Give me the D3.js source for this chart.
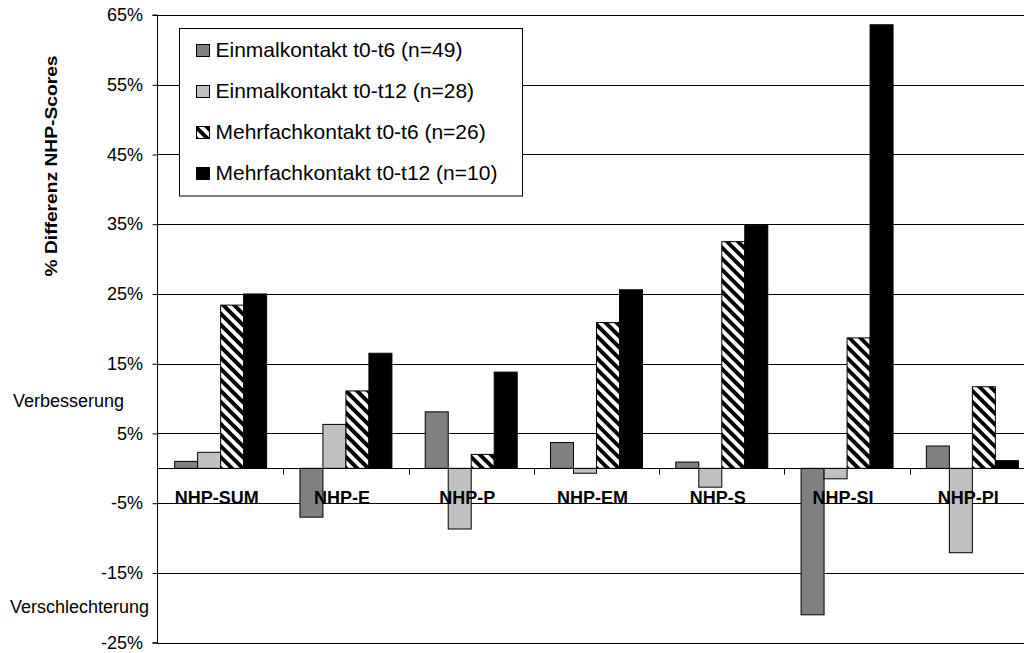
<!DOCTYPE html>
<html>
<head>
<meta charset="utf-8">
<script src="https://cdn.jsdelivr.net/npm/d3@7/dist/d3.min.js"></script>
<style>
  html, body { margin: 0; padding: 0; background: #fff; }
  svg { display: block; font-family: "Liberation Sans", Arial, sans-serif; }
</style>
</head>
<body>
<svg id="chart" width="1024" height="653"></svg>
<script>
// NHP score change (%) per dimension and contact group
const categories = ["NHP-SUM", "NHP-E", "NHP-P", "NHP-EM", "NHP-S", "NHP-SI", "NHP-PI"];
const seriesNames = [
  "Einmalkontakt t0-t6 (n=49)",
  "Einmalkontakt t0-t12 (n=28)",
  "Mehrfachkontakt t0-t6 (n=26)",
  "Mehrfachkontakt t0-t12 (n=10)"
];
const einmalT6 = [1.0, -7.0, 8.1, 3.7, 0.9, -21.0, 3.2];
const einmalT12 = [2.3, 6.3, -8.7, -0.7, -2.7, -1.5, -12.1];
const mehrfachT6 = [23.4, 11.1, 2.0, 20.9, 32.5, 18.7, 11.7];
const mehrfachT12 = [25.0, 16.5, 13.8, 25.6, 34.8, 63.6, 1.1];
const yTicks = [-25, -15, -5, 5, 15, 25, 35, 45, 55, 65];

const seriesValues = [einmalT6, einmalT12, mehrfachT6, mehrfachT12];
const fills = ["#808080", "#c0c0c0", "url(#hatch)", "#000000"];

const svg = d3.select("#chart");

// diagonal hatch for the third series
const defs = svg.append("defs");
const pat = defs.append("pattern")
  .attr("id", "hatch")
  .attr("patternUnits", "userSpaceOnUse")
  .attr("width", 7.8).attr("height", 7.8)
  .attr("patternTransform", "rotate(-45)");
pat.append("rect").attr("width", 7.8).attr("height", 7.8).attr("fill", "#fff");
pat.append("rect").attr("width", 3.9).attr("height", 7.8).attr("fill", "#000");

const plotLeft = 157, plotRight = 1035, plotTop = 15, plotBottom = 642.7;

const y = d3.scaleLinear().domain([-25, 65]).range([plotBottom, plotTop]);
const x0 = d3.scaleBand().domain(categories).range([plotLeft + 1, plotRight]).paddingInner(0).paddingOuter(0);
const x1 = d3.scaleBand().domain(d3.range(seriesNames.length)).range([0, x0.bandwidth()]).paddingInner(0).paddingOuter(0.724);

// horizontal gridlines
svg.append("g")
  .selectAll("line")
  .data(yTicks)
  .join("line")
  .attr("x1", plotLeft).attr("x2", 1024)
  .attr("y1", d => Math.round(y(d)) + 0.5).attr("y2", d => Math.round(y(d)) + 0.5)
  .attr("stroke", "#000").attr("stroke-width", 1);

// y axis with percent labels
const yAxis = d3.axisLeft(y).tickValues(yTicks).tickSize(5).tickFormat(d => d + "%");
const gy = svg.append("g").attr("transform", `translate(${plotLeft + 0.5},0)`).call(yAxis);
gy.select(".domain").attr("stroke", "#000").attr("d", `M-5,${y(65)}H0V${y(-25)}H-5`);
gy.selectAll(".tick line").attr("stroke", "#000");
gy.selectAll(".tick text")
  .attr("x", -14.5)
  .attr("font-size", "18px")
  .attr("fill", "#000")
  .attr("font-family", "'Liberation Sans', Arial, sans-serif");

// bars
const groups = svg.append("g")
  .selectAll("g")
  .data(categories)
  .join("g")
  .attr("transform", d => `translate(${x0(d)},0)`);

groups.selectAll("rect")
  .data((c, ci) => seriesValues.map((vals, si) => ({ si, v: vals[ci] })))
  .join("rect")
  .attr("x", d => x1(d.si))
  .attr("width", x1.bandwidth())
  .attr("y", d => y(Math.max(0, d.v)))
  .attr("height", d => Math.abs(y(d.v) - y(0)))
  .attr("fill", d => fills[d.si])
  .attr("stroke", "#000")
  .attr("stroke-width", 1);

// category axis at zero
const xAxis = d3.axisBottom(x0).tickSize(0).tickFormat("");
const gx = svg.append("g").attr("transform", `translate(0,${Math.round(y(0)) + 0.5})`).call(xAxis);
gx.select(".domain").attr("stroke", "#000").attr("d", `M${plotLeft},0H1024`);
gx.selectAll(".tick").remove();
gx.selectAll(".sep")
  .data(categories.slice(1))
  .join("line")
  .attr("class", "sep")
  .attr("x1", d => Math.round(x0(d)) + 0.5).attr("x2", d => Math.round(x0(d)) + 0.5)
  .attr("y1", 0).attr("y2", 6)
  .attr("stroke", "#000");

// category labels below the zero line
svg.append("g")
  .selectAll("text")
  .data(categories)
  .join("text")
  .attr("x", d => x0(d) + x0.bandwidth() / 2 - 4)
  .attr("y", 503.5)
  .attr("text-anchor", "middle")
  .attr("font-size", "18px")
  .attr("font-weight", "bold")
  .attr("fill", "#000")
  .text(d => d);

// side annotations
svg.append("text").attr("x", 13).attr("y", 406.5).attr("font-size", "18px").text("Verbesserung");
svg.append("text").attr("x", 10).attr("y", 612.5).attr("font-size", "18px").text("Verschlechterung");

// y axis title
svg.append("text")
  .attr("transform", "translate(57,166) rotate(-90)")
  .attr("text-anchor", "middle")
  .attr("font-size", "16px")
  .attr("font-weight", "bold")
  .attr("textLength", 221)
  .attr("lengthAdjust", "spacingAndGlyphs")
  .text("% Differenz NHP-Scores");

// legend
const lg = svg.append("g");
lg.append("rect")
  .attr("x", 179.5).attr("y", 28.5).attr("width", 343).attr("height", 167.5)
  .attr("fill", "#fff").attr("stroke", "#000");
const rowY = [57, 98, 139, 180];
const rows = lg.selectAll("g.row")
  .data(seriesNames)
  .join("g")
  .attr("class", "row");
rows.append("rect")
  .attr("x", 196.5).attr("y", (d, i) => rowY[i] - 12.5)
  .attr("width", 13).attr("height", 12)
  .attr("fill", (d, i) => fills[i])
  .attr("stroke", "#000");
rows.append("text")
  .attr("x", 215.5).attr("y", (d, i) => rowY[i])
  .attr("font-size", "21px")
  .attr("fill", "#000")
  .text(d => d);
</script>
</body>
</html>
